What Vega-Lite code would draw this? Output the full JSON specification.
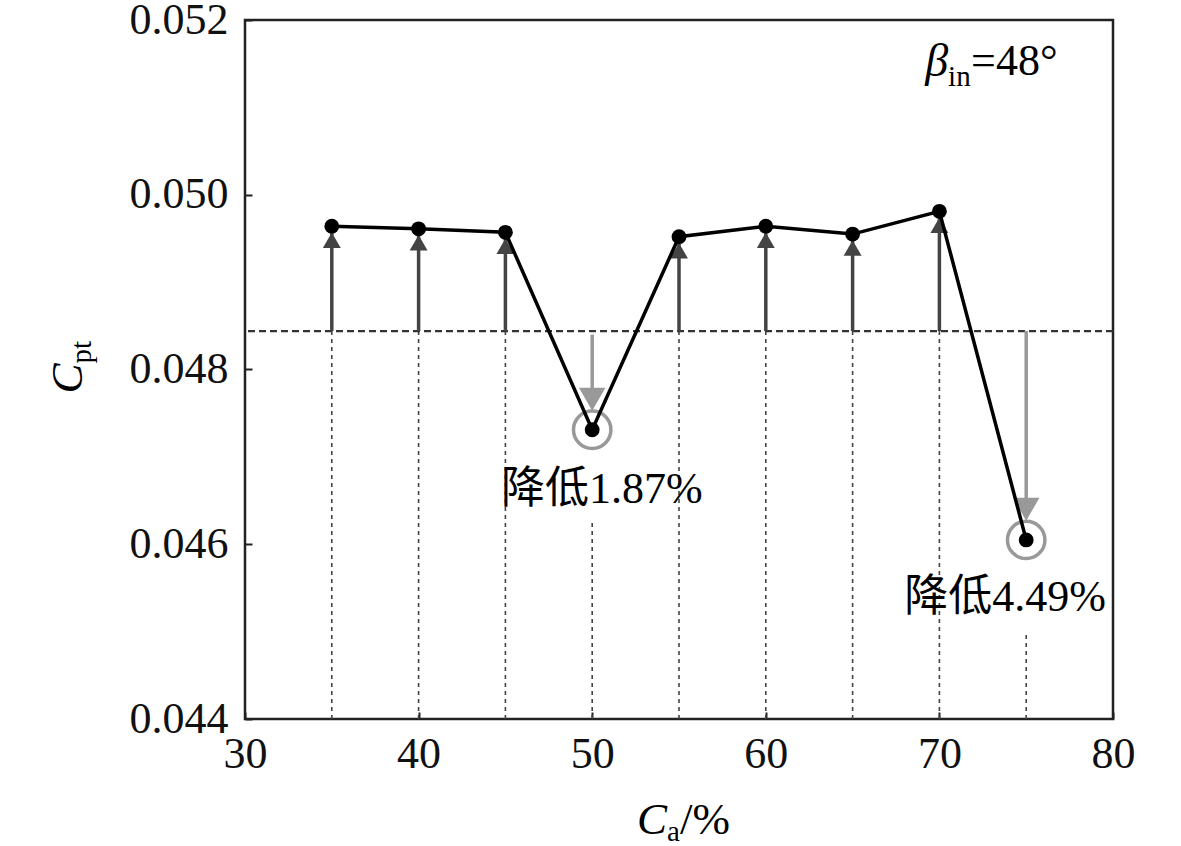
{
  "$schema": "https://vega.github.io/schema/vega-lite/v6.json",
  "width": 868,
  "height": 699,
  "autosize": "none",
  "padding": {"left": 245, "top": 20, "right": 68, "bottom": 127},
  "background": "white",
  "config": {
    "view": {"stroke": "#222", "strokeWidth": 2.5},
    "axis": {
      "domain": false,
      "grid": false,
      "labelFont": "Liberation Serif",
      "labelFontSize": 44,
      "labelColor": "#111",
      "labelFlush": false,
      "labelOverlap": false,
      "tickColor": "#222",
      "tickWidth": 2,
      "tickSize": -7,
      "title": null
    }
  },
  "datasets": {
    "main": [
      {"ca": 35, "cpt": 0.04964},
      {"ca": 40, "cpt": 0.04961},
      {"ca": 45, "cpt": 0.04957},
      {"ca": 50, "cpt": 0.04731},
      {"ca": 55, "cpt": 0.04952},
      {"ca": 60, "cpt": 0.04964},
      {"ca": 65, "cpt": 0.04955},
      {"ca": 70, "cpt": 0.04981},
      {"ca": 75, "cpt": 0.04605}
    ],
    "up": [
      {"ca": 35, "base": 0.04844, "cpt": 0.04964},
      {"ca": 40, "base": 0.04844, "cpt": 0.04961},
      {"ca": 45, "base": 0.04844, "cpt": 0.04957},
      {"ca": 55, "base": 0.04844, "cpt": 0.04952},
      {"ca": 60, "base": 0.04844, "cpt": 0.04964},
      {"ca": 65, "base": 0.04844, "cpt": 0.04955},
      {"ca": 70, "base": 0.04844, "cpt": 0.04981}
    ],
    "drops": [
      {"ca": 35, "bottom": 0.044, "top": 0.04844},
      {"ca": 40, "bottom": 0.044, "top": 0.04844},
      {"ca": 45, "bottom": 0.044, "top": 0.04844},
      {"ca": 50, "bottom": 0.044, "top": 0.04626},
      {"ca": 55, "bottom": 0.044, "top": 0.04844},
      {"ca": 60, "bottom": 0.044, "top": 0.04844},
      {"ca": 65, "bottom": 0.044, "top": 0.04844},
      {"ca": 70, "bottom": 0.044, "top": 0.04844},
      {"ca": 75, "bottom": 0.044, "top": 0.04500}
    ],
    "down": [
      {"ca": 50, "start": 0.04840, "head": 0.04766, "cpt": 0.04731},
      {"ca": 75, "start": 0.04844, "head": 0.04640, "cpt": 0.04605}
    ],
    "notes": [
      {"ca": 50.56, "y": 0.04662, "text": "降低1.87%"},
      {"ca": 73.78, "y": 0.04538, "text": "降低4.49%"}
    ],
    "ref": [{"level": 0.04844}]
  },
  "layer": [
    {
      "data": {"name": "drops"},
      "mark": {"type": "rule", "color": "#444", "strokeWidth": 1.6, "strokeDash": [4, 4]},
      "encoding": {
        "x": {"field": "ca", "type": "quantitative", "scale": {"domain": [30, 80], "nice": false},
              "axis": {"values": [30, 40, 50, 60, 70, 80], "labelPadding": 20}},
        "y": {"field": "bottom", "type": "quantitative", "scale": {"domain": [0.044, 0.052], "nice": false, "zero": false},
              "axis": {"values": [0.044, 0.046, 0.048, 0.050, 0.052], "format": ".3f", "labelPadding": 24}},
        "y2": {"field": "top"}
      }
    },
    {
      "data": {"name": "ref"},
      "mark": {"type": "rule", "color": "#333", "strokeWidth": 2.2, "strokeDash": [7, 4]},
      "encoding": {"y": {"field": "level", "type": "quantitative"}}
    },
    {
      "data": {"name": "up"},
      "mark": {"type": "rule", "color": "#444", "strokeWidth": 3.5},
      "encoding": {
        "x": {"field": "ca", "type": "quantitative"},
        "y": {"field": "base", "type": "quantitative"},
        "y2": {"field": "cpt"}
      }
    },
    {
      "data": {"name": "up"},
      "mark": {"type": "point", "shape": "triangle-up", "filled": true, "color": "#444", "opacity": 1, "size": 320, "yOffset": 14},
      "encoding": {
        "x": {"field": "ca", "type": "quantitative"},
        "y": {"field": "cpt", "type": "quantitative"}
      }
    },
    {
      "data": {"name": "down"},
      "mark": {"type": "rule", "color": "#999", "strokeWidth": 3.5},
      "encoding": {
        "x": {"field": "ca", "type": "quantitative"},
        "y": {"field": "start", "type": "quantitative"},
        "y2": {"field": "head"}
      }
    },
    {
      "data": {"name": "down"},
      "mark": {"type": "point", "shape": "triangle-down", "filled": true, "color": "#999", "opacity": 1, "size": 700},
      "encoding": {
        "x": {"field": "ca", "type": "quantitative"},
        "y": {"field": "head", "type": "quantitative"}
      }
    },
    {
      "data": {"name": "down"},
      "mark": {"type": "point", "shape": "circle", "filled": false, "color": "#999", "strokeWidth": 3.5, "opacity": 1, "size": 1400},
      "encoding": {
        "x": {"field": "ca", "type": "quantitative"},
        "y": {"field": "cpt", "type": "quantitative"}
      }
    },
    {
      "data": {"name": "main"},
      "mark": {"type": "line", "color": "#000", "strokeWidth": 3.5},
      "encoding": {
        "x": {"field": "ca", "type": "quantitative"},
        "y": {"field": "cpt", "type": "quantitative"}
      }
    },
    {
      "data": {"name": "main"},
      "mark": {"type": "point", "shape": "circle", "filled": true, "color": "#000", "opacity": 1, "size": 220},
      "encoding": {
        "x": {"field": "ca", "type": "quantitative"},
        "y": {"field": "cpt", "type": "quantitative"}
      }
    },
    {
      "data": {"name": "notes"},
      "mark": {"type": "text", "font": "Liberation Serif, Noto Sans CJK SC", "fontSize": 44, "color": "#000", "align": "center", "baseline": "middle"},
      "encoding": {
        "x": {"field": "ca", "type": "quantitative"},
        "y": {"field": "y", "type": "quantitative"},
        "text": {"field": "text"}
      }
    },
    {
      "data": {"values": [{"ca": 70.5, "y": 0.05152, "text": "β"}]},
      "mark": {"type": "text", "font": "Liberation Serif", "fontStyle": "italic", "fontSize": 46, "color": "#000", "align": "right", "baseline": "middle"},
      "encoding": {
        "x": {"field": "ca", "type": "quantitative"},
        "y": {"field": "y", "type": "quantitative"},
        "text": {"field": "text"}
      }
    },
    {
      "data": {"values": [{"ca": 70.5, "y": 0.05152, "text": "in"}]},
      "mark": {"type": "text", "font": "Liberation Serif", "fontSize": 29, "color": "#000", "align": "left", "baseline": "middle", "dx": 0, "dy": 15},
      "encoding": {
        "x": {"field": "ca", "type": "quantitative"},
        "y": {"field": "y", "type": "quantitative"},
        "text": {"field": "text"}
      }
    },
    {
      "data": {"values": [{"ca": 70.5, "y": 0.05152, "text": "=48°"}]},
      "mark": {"type": "text", "font": "Liberation Serif", "fontSize": 44, "color": "#000", "align": "left", "baseline": "middle", "dx": 23},
      "encoding": {
        "x": {"field": "ca", "type": "quantitative"},
        "y": {"field": "y", "type": "quantitative"},
        "text": {"field": "text"}
      }
    },
    {
      "data": {"values": [{"ca": 54.31, "y": 0.04284, "text": "C"}]},
      "mark": {"type": "text", "font": "Liberation Serif", "fontStyle": "italic", "fontSize": 45, "color": "#000", "align": "right", "baseline": "middle"},
      "encoding": {
        "x": {"field": "ca", "type": "quantitative"},
        "y": {"field": "y", "type": "quantitative"},
        "text": {"field": "text"}
      }
    },
    {
      "data": {"values": [{"ca": 54.31, "y": 0.04284, "text": "a"}]},
      "mark": {"type": "text", "font": "Liberation Serif", "fontSize": 29, "color": "#000", "align": "left", "baseline": "middle", "dx": 0, "dy": 12},
      "encoding": {
        "x": {"field": "ca", "type": "quantitative"},
        "y": {"field": "y", "type": "quantitative"},
        "text": {"field": "text"}
      }
    },
    {
      "data": {"values": [{"ca": 54.31, "y": 0.04284, "text": "/%"}]},
      "mark": {"type": "text", "font": "Liberation Serif", "fontSize": 45, "color": "#000", "align": "left", "baseline": "middle", "dx": 13},
      "encoding": {
        "x": {"field": "ca", "type": "quantitative"},
        "y": {"field": "y", "type": "quantitative"},
        "text": {"field": "text"}
      }
    },
    {
      "data": {"values": [{"ca": 19.8, "y": 0.04807, "text": "C"}]},
      "mark": {"type": "text", "font": "Liberation Serif", "fontStyle": "italic", "fontSize": 45, "color": "#000", "align": "right", "baseline": "middle", "angle": 270},
      "encoding": {
        "x": {"field": "ca", "type": "quantitative"},
        "y": {"field": "y", "type": "quantitative"},
        "text": {"field": "text"}
      }
    },
    {
      "data": {"values": [{"ca": 19.8, "y": 0.04807, "text": "pt"}]},
      "mark": {"type": "text", "font": "Liberation Serif", "fontSize": 29, "color": "#000", "align": "left", "baseline": "middle", "angle": 270, "dx": 0, "dy": 14},
      "encoding": {
        "x": {"field": "ca", "type": "quantitative"},
        "y": {"field": "y", "type": "quantitative"},
        "text": {"field": "text"}
      }
    }
  ]
}
